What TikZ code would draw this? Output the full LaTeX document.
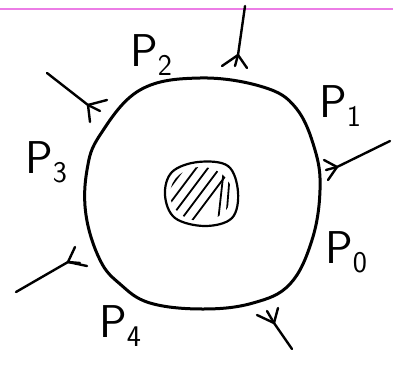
\documentclass[tikz,border=0pt]{standalone}
\usetikzlibrary{calc}
\definecolor{pinkline}{RGB}{236,125,230}
\newcommand{\Plab}[1]{P\raisebox{-9pt}{\fontsize{30}{30}\selectfont #1}}
\tikzset{
  outline/.style={line width=3pt, line cap=round, line join=round},
  leg/.style={line width=2.4pt, line cap=round, line join=round},
  hatch/.style={line width=1.8pt, line cap=round},
  lab/.style={inner sep=0pt, font=\fontsize{46}{46}\sffamily}
}
\begin{document}
\begin{tikzpicture}[x=1pt,y=-1pt]
\useasboundingbox (0,0) rectangle (393,367);
\fill[white] (0,0) rectangle (393,367);
% pink rule
\coordinate (pl) at (0,9);
\coordinate (pr) at (393,9);
\draw[pinkline, line width=2pt] (pl) -- (pr);
% big circle
\draw[outline] plot[smooth cycle, tension=0.65] coordinates {
 (200,78) (263,87) (296,108) (315,150) (320,190) (312,240) (290,284)
 (253,303) (203,309) (150,303) (120,284) (100,260) (86,215) (87,170)
 (100,135) (140,90)};
% hatched blob
\coordinate (bc) at (201,193);
\begin{scope}
 \clip (201,194) ellipse [x radius=31, y radius=27];
 \foreach \i in {-3,...,1} {
   \draw[hatch] ($(bc)+(\i*7.5,\i*5.6)+(-36,48)$) -- ++(72,-96);
 }
 \draw[hatch] (218,222) -- (224,168);
 \draw[hatch] (226,222) -- (230,172);
 \draw[hatch] (233,215) -- (234,182);
\end{scope}
\draw[line width=2.2pt] plot[smooth cycle, tension=0.6] coordinates {
 (172,172) (198,162) (228,166) (238,192) (232,218) (205,226) (175,218) (165,195)};
% legs: outer end, vertex, arm1, arm2, stub
\foreach \o/\v/\a/\b/\s [count=\n] in {
  {245,6}/{238,55}/{222,66}/{247,68}/{235,66},
  {390,141}/{337,167}/{324,160}/{328,180}/{326,170},
  {292,349}/{274,323}/{257,315}/{278,308}/{267,311},
  {16,292}/{68,262}/{75,247}/{87,266}/{80,263},
  {47,73}/{88,105}/{107,100}/{90,122}/{100,111}} {
  \coordinate (o\n) at (\o);
  \coordinate (v\n) at (\v);
  \coordinate (a\n) at (\a);
  \coordinate (b\n) at (\b);
  \coordinate (s\n) at (\s);
  \draw[leg] (o\n) -- (v\n) -- (s\n);
  \draw[leg] (a\n) -- (v\n) -- (b\n);
}
% labels
\node[lab] (p0) at (346,252) {\Plab{0}};
\node[lab] (p1) at (340,106) {\Plab{1}};
\node[lab] (p2) at (151,55) {\Plab{2}};
\node[lab] (p3) at (46,162) {\Plab{3}};
\node[lab] (p4) at (120,326) {\Plab{4}};
\end{tikzpicture}
\end{document}
